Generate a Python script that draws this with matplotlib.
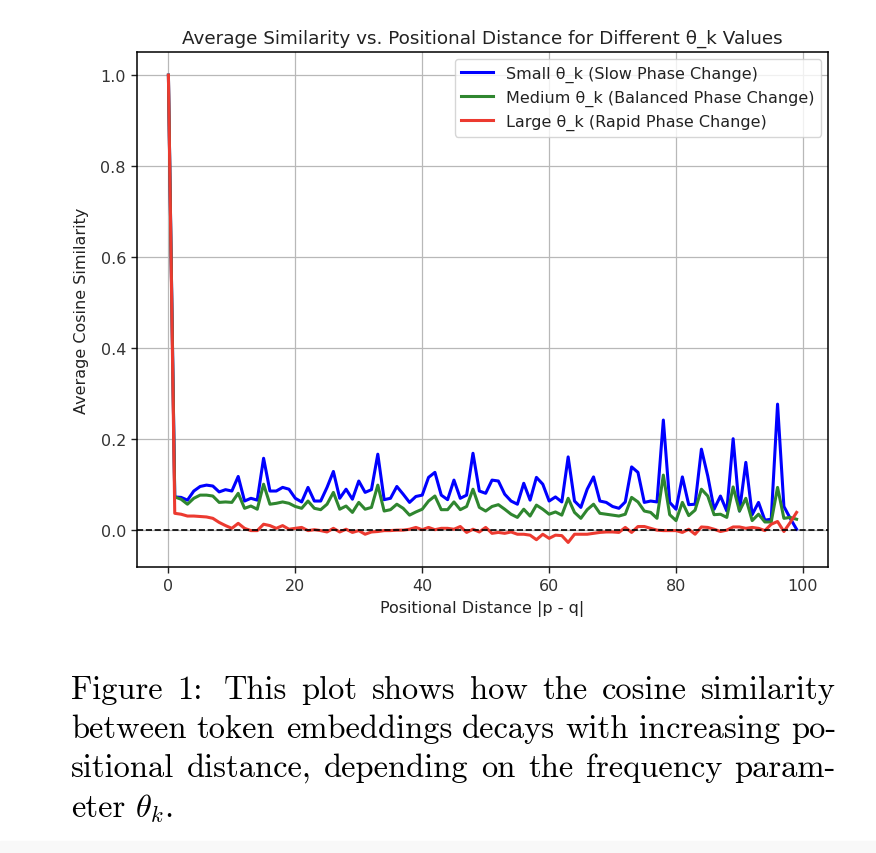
import matplotlib
matplotlib.use("Agg")
import matplotlib.pyplot as plt
import numpy as np

# ---------------- data ----------------
distance = list(range(100))

small_theta = [1.0, 0.073, 0.072, 0.066, 0.086, 0.096, 0.099, 0.097, 0.084, 0.089,
               0.086, 0.118, 0.064, 0.070, 0.066, 0.158, 0.086, 0.086, 0.094, 0.090,
               0.070, 0.062, 0.094, 0.064, 0.064, 0.094, 0.129, 0.070, 0.090, 0.068,
               0.108, 0.083, 0.089, 0.167, 0.067, 0.070, 0.096, 0.079, 0.061, 0.074,
               0.077, 0.116, 0.127, 0.077, 0.067, 0.110, 0.070, 0.077, 0.169, 0.086,
               0.081, 0.110, 0.108, 0.079, 0.064, 0.057, 0.103, 0.066, 0.116, 0.101,
               0.064, 0.073, 0.062, 0.161, 0.064, 0.050, 0.090, 0.117, 0.064, 0.061,
               0.052, 0.048, 0.062, 0.139, 0.127, 0.061, 0.064, 0.062, 0.242, 0.061,
               0.046, 0.117, 0.056, 0.057, 0.178, 0.119, 0.046, 0.075, 0.042, 0.201,
               0.042, 0.149, 0.034, 0.061, 0.022, 0.024, 0.277, 0.052, 0.026, 0.002]

medium_theta = [1.0, 0.073, 0.068, 0.057, 0.070, 0.077, 0.077, 0.075, 0.061, 0.062,
                0.061, 0.081, 0.048, 0.053, 0.046, 0.101, 0.057, 0.059, 0.062, 0.059,
                0.052, 0.048, 0.064, 0.048, 0.045, 0.057, 0.083, 0.046, 0.053, 0.039,
                0.061, 0.046, 0.050, 0.099, 0.042, 0.045, 0.057, 0.048, 0.033, 0.040,
                0.046, 0.064, 0.075, 0.045, 0.045, 0.062, 0.045, 0.052, 0.090, 0.050,
                0.042, 0.052, 0.056, 0.046, 0.035, 0.028, 0.046, 0.031, 0.055, 0.046,
                0.035, 0.040, 0.033, 0.070, 0.039, 0.026, 0.045, 0.057, 0.037, 0.035,
                0.033, 0.031, 0.035, 0.072, 0.062, 0.042, 0.039, 0.026, 0.121, 0.034,
                0.021, 0.061, 0.032, 0.044, 0.090, 0.075, 0.034, 0.035, 0.028, 0.095,
                0.042, 0.070, 0.021, 0.035, 0.018, 0.018, 0.094, 0.026, 0.028, 0.024]

large_theta = [1.0, 0.037, 0.035, 0.031, 0.031, 0.030, 0.029, 0.026, 0.017, 0.010,
               0.004, 0.015, 0.004, -0.001, -0.001, 0.013, 0.010, 0.004, 0.010, 0.002,
               0.004, 0.006, -0.001, 0.001, -0.001, -0.004, 0.004, -0.004, 0.002, -0.005,
               -0.001, -0.009, -0.004, -0.003, -0.001, -0.001, 0.000, 0.000, 0.002, 0.006,
               0.001, 0.006, 0.001, 0.004, 0.004, 0.002, 0.008, -0.005, 0.002, -0.004,
               0.006, -0.007, -0.005, -0.007, -0.004, -0.009, -0.009, -0.011, -0.021, -0.009,
               -0.018, -0.011, -0.012, -0.027, -0.009, -0.009, -0.009, -0.007, -0.005, -0.004,
               -0.004, -0.005, 0.006, -0.005, 0.008, 0.008, 0.004, 0.000, -0.001, -0.001,
               -0.001, -0.005, 0.002, -0.009, 0.007, 0.006, 0.002, -0.003, 0.000, 0.007,
               0.007, 0.004, 0.006, 0.004, -0.001, 0.013, 0.019, -0.003, 0.017, 0.039]

labels = ["Small θ_k (Slow Phase Change)",
          "Medium θ_k (Balanced Phase Change)",
          "Large θ_k (Rapid Phase Change)"]
title = "Average Similarity vs. Positional Distance for Different θ_k Values"
xlabel = "Positional Distance |p - q|"
ylabel = "Average Cosine Similarity"

caption_lines = [
    ["Figure", "1:", "This", "plot", "shows", "how", "the", "cosine", "similarity"],
    ["between", "token", "embeddings", "decays", "with", "increasing", "po-"],
    ["sitional", "distance,", "depending", "on", "the", "frequency", "param-"],
    ["eter", r"$\theta_k$."],
]

# ---------------- figure ----------------
W, H = 876, 854
fig = plt.figure(figsize=(W / 100, H / 100), dpi=100)
fig.patch.set_facecolor("white")
plt.rcParams["mathtext.fontset"] = "cm"

ax = fig.add_axes([137 / W, 1 - 568 / H, (828 - 137) / W, (568 - 53) / H])
ax.plot(distance, small_theta, color="#0000ff", lw=2.2, label=labels[0])
ax.plot(distance, medium_theta, color="#2f862f", lw=2.2, label=labels[1])
ax.plot(distance, large_theta, color="#ec3a30", lw=2.2, label=labels[2])
ax.axhline(0, color="black", ls="--", lw=1.2)

ax.set_xlim(-4.95, 103.95)
ax.set_ylim(-0.081, 1.051)
ax.set_xticks([0, 20, 40, 60, 80, 100])
ax.set_yticks([0.0, 0.2, 0.4, 0.6, 0.8, 1.0])
ax.tick_params(labelsize=11.5, length=4.5, width=1.0, colors="#222222", labelcolor="#333333")
ax.grid(True, color="#b8b8b8", lw=0.9)
for s in ax.spines.values():
    s.set_linewidth(1.1)
ax.set_title(title, fontsize=13.2, pad=7, color="#222222")
ax.set_xlabel(xlabel, fontsize=11.5, labelpad=5, color="#222222")
ax.set_ylabel(ylabel, fontsize=11.5, labelpad=8, color="#222222")
leg = ax.legend(loc="upper right", fontsize=11.5, handlelength=2.0,
                borderaxespad=0.45, framealpha=0.8)
for t in leg.get_texts():
    t.set_color("#222222")

# ---------------- caption (justified) ----------------
cap_font = dict(family="cmr10", fontsize=23.4)
left_px, right_px = 71, 836
baselines = [699, 738, 777, 817]
renderer = fig.canvas.get_renderer()
for li, words in enumerate(caption_lines):
    y = 1 - baselines[li] / H
    texts = [fig.text(0, y, w, va="baseline", ha="left", **cap_font) for w in words]
    widths = [t.get_window_extent(renderer).width for t in texts]
    weights = [1.5 if w.endswith(":") else 1.0 for w in words[:-1]]
    if li < len(caption_lines) - 1:
        unit = (right_px - left_px - sum(widths)) / sum(weights)
    else:
        unit = 10
    x = left_px
    for i, (t, wd) in enumerate(zip(texts, widths)):
        t.set_x(x / W)
        if i < len(weights):
            x += wd + unit * weights[i]

# light band at the bottom
fig.patches.append(matplotlib.patches.Rectangle((0, 0), 1, 12 / H, transform=fig.transFigure,
                                                color="#f8f8f8", zorder=-1))

fig.savefig("out.png", dpi=100, facecolor="white")
